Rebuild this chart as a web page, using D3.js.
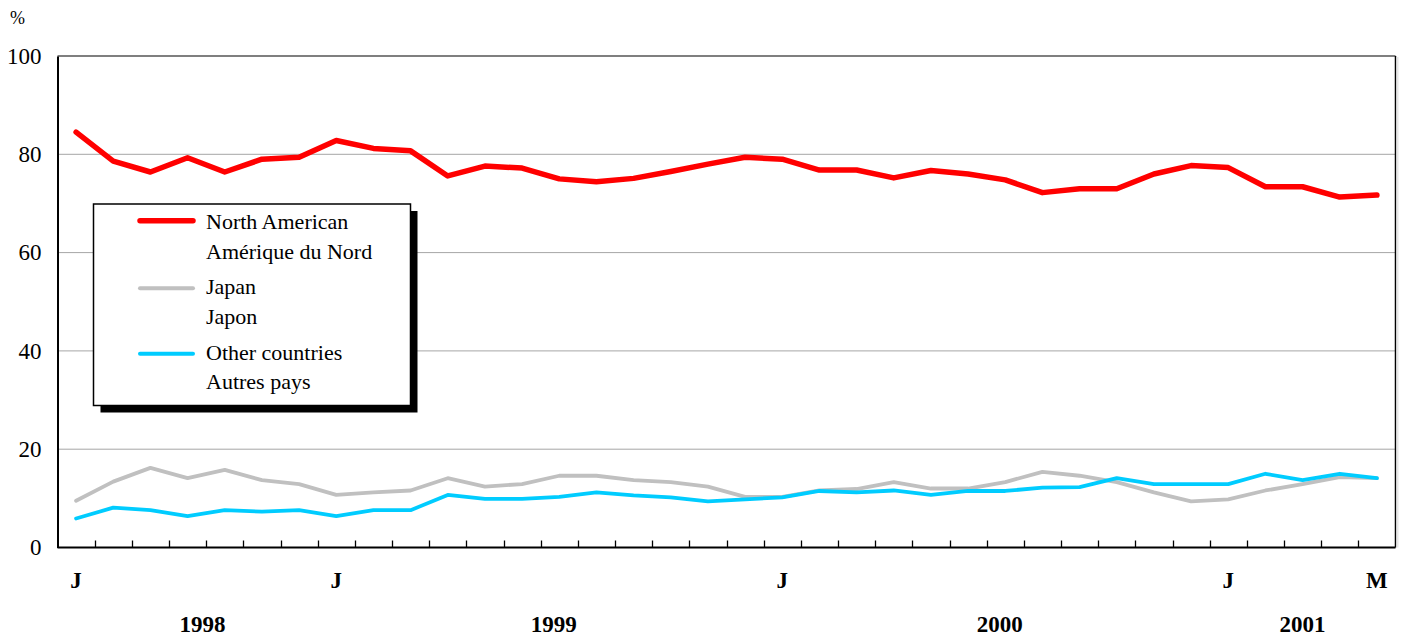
<!DOCTYPE html>
<html>
<head>
<meta charset="utf-8">
<script src="https://cdn.jsdelivr.net/npm/d3@7"></script>
<style>
  html, body { margin: 0; padding: 0; background: #fff; }
  svg { display: block; }
  svg text { font-family: "Liberation Serif", "Tinos", "Times New Roman", Times, "DejaVu Serif", serif !important; }
</style>
</head>
<body>
<svg id="chart" width="1407" height="638"></svg>
<script>
// ---- data ----
const months = ["Jun98","Jul98","Aug98","Sep98","Oct98","Nov98","Dec98",
  "Jan99","Feb99","Mar99","Apr99","May99","Jun99","Jul99","Aug99","Sep99","Oct99","Nov99","Dec99",
  "Jan00","Feb00","Mar00","Apr00","May00","Jun00","Jul00","Aug00","Sep00","Oct00","Nov00","Dec00",
  "Jan01","Feb01","Mar01","Apr01","May01"];
const northAmerican = [84.5,78.6,76.4,79.3,76.4,79.0,79.4,82.8,81.2,80.7,75.6,77.6,77.2,75.0,74.4,75.1,76.5,78.0,79.4,79.0,
  76.8,76.8,75.2,76.7,76.0,74.8,72.2,73.0,73.0,76.0,77.7,77.3,73.4,73.4,71.3,71.7];
const japan = [9.5,13.4,16.2,14.1,15.8,13.7,12.9,10.7,11.2,11.6,14.1,12.4,12.9,14.6,14.6,13.7,13.3,12.4,10.3,10.3,
  11.6,11.9,13.3,12.0,12.0,13.3,15.4,14.6,13.3,11.2,9.4,9.8,11.6,12.9,14.3,14.1];
const otherCountries = [5.9,8.1,7.6,6.4,7.6,7.3,7.6,6.4,7.6,7.6,10.7,9.9,9.9,10.3,11.2,10.6,10.2,9.4,9.8,10.2,
  11.5,11.2,11.6,10.7,11.5,11.5,12.2,12.3,14.1,12.9,12.9,12.9,15.0,13.7,15.0,14.1];
const monthLabels = [{i:0,t:"J"},{i:7,t:"J"},{i:19,t:"J"},{i:31,t:"J"},{i:35,t:"M"}];
const yearLabels = [{pos:3.4,t:"1998"},{pos:12.85,t:"1999"},{pos:24.85,t:"2000"},{pos:33,t:"2001"}];
const yTicks = [0,20,40,60,80,100];
const seriesNames = [["North American","Amérique du Nord"],["Japan","Japon"],["Other countries","Autres pays"]];

// ---- layout ----
const svg = d3.select("#chart");
const L = 57.5, R = 1395.5, T = 56, B = 547.5;
const x = d3.scaleBand().domain(months).range([L, R]).paddingInner(0).paddingOuter(0);
const y = d3.scaleLinear().domain([0, 100]).range([B, T]);
const cx = m => x(m) + x.bandwidth() / 2;
const px = pos => L + x.bandwidth() * (pos + 0.5);

// gridlines
svg.append("g").selectAll("line").data(yTicks.filter(d => d > 0 && d < 100)).join("line")
  .attr("x1", L).attr("x2", R).attr("y1", d => y(d)).attr("y2", d => y(d))
  .attr("stroke", "#a6a6a6").attr("stroke-width", 1);

// frame
svg.append("line").attr("x1", L).attr("x2", R).attr("y1", T).attr("y2", T).attr("stroke", "#555").attr("stroke-width", 1.5);
svg.append("line").attr("x1", R).attr("x2", R).attr("y1", T).attr("y2", B).attr("stroke", "#000").attr("stroke-width", 1.5);
svg.append("line").attr("x1", R + 2).attr("x2", R + 2).attr("y1", T + 1).attr("y2", B).attr("stroke", "#e6e6e6").attr("stroke-width", 2);

// y axis
const yAxis = d3.axisLeft(y).tickValues(yTicks).tickSize(0).tickPadding(16);
const gy = svg.append("g").attr("transform", `translate(${L},0)`).call(yAxis);
gy.attr("font-family", null);
gy.select(".domain").attr("stroke", "#000").attr("stroke-width", 2);
gy.selectAll("text").attr("font-size", 23).attr("fill", "#000");
gy.attr("font-size", 23);

// x axis with inward ticks at band boundaries
const gx = svg.append("g").attr("transform", `translate(0,${B})`);
gx.append("line").attr("x1", L).attr("x2", R).attr("stroke", "#000").attr("stroke-width", 2);
gx.selectAll("line.tick").data(months.slice(1)).join("line").attr("class", "tick")
  .attr("x1", d => Math.round(x(d)) + 0.5).attr("x2", d => Math.round(x(d)) + 0.5)
  .attr("y1", 0).attr("y2", -7).attr("stroke", "#000").attr("stroke-width", 1.3);

gx.selectAll("text.m").data(monthLabels).join("text").attr("class", "m")
  .attr("x", d => cx(months[d.i])).attr("y", 40.5)
  .attr("text-anchor", "middle").attr("font-weight", "bold").attr("font-size", 23).text(d => d.t);
gx.selectAll("text.yr").data(yearLabels).join("text").attr("class", "yr")
  .attr("x", d => px(d.pos)).attr("y", 84)
  .attr("text-anchor", "middle").attr("font-weight", "bold").attr("font-size", 23).text(d => d.t);

// "%" label
svg.append("text").attr("x", 10).attr("y", 24).attr("font-size", 18).text("%");

// lines
const line = d3.line().x((d, i) => cx(months[i])).y(d => y(d));
const series = [
  {data: japan, color: "#c0c0c0", w: 3.8},
  {data: otherCountries, color: "#00ccff", w: 3.8},
  {data: northAmerican, color: "#ff0000", w: 5.5}
];
series.forEach(s => {
  svg.append("path").datum(s.data).attr("d", line)
    .attr("fill", "none").attr("stroke", s.color).attr("stroke-width", s.w)
    .attr("stroke-linejoin", "round").attr("stroke-linecap", "round");
});

// legend
const lg = svg.append("g");
const bx = 93.5, by = 204, bw = 317, bh = 201.5;
lg.append("rect").attr("x", bx + 7).attr("y", by + 7).attr("width", bw).attr("height", bh).attr("fill", "#000");
lg.append("rect").attr("x", bx).attr("y", by).attr("width", bw).attr("height", bh)
  .attr("fill", "#fff").attr("stroke", "#000").attr("stroke-width", 1.5);
const legendItems = [
  {names: seriesNames[0], color: "#ff0000", w: 5.5, ly: 220.7, t1: 229.3, t2: 259},
  {names: seriesNames[1], color: "#c0c0c0", w: 4, ly: 288.3, t1: 294.3, t2: 324},
  {names: seriesNames[2], color: "#00ccff", w: 4, ly: 353.7, t1: 360, t2: 389.3}
];
legendItems.forEach(it => {
  lg.append("line").attr("x1", 140).attr("x2", 193).attr("y1", it.ly).attr("y2", it.ly)
    .attr("stroke", it.color).attr("stroke-width", it.w).attr("stroke-linecap", "round");
  lg.append("text").attr("x", 206).attr("y", it.t1).attr("font-size", 22).text(it.names[0]);
  lg.append("text").attr("x", 206).attr("y", it.t2).attr("font-size", 22).text(it.names[1]);
});
</script>
</body>
</html>
